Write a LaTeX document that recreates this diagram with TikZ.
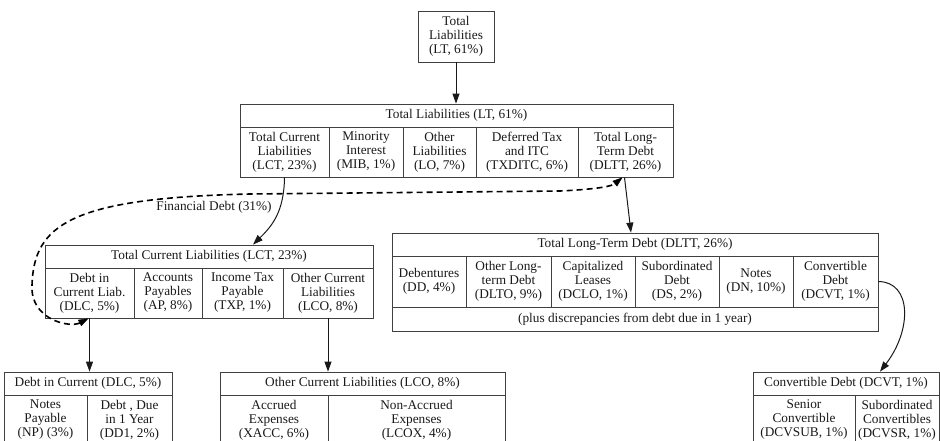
\documentclass[tikz,border=0pt]{standalone}
\usepackage{fontspec}
\setmainfont{Liberation Serif}
\usetikzlibrary{arrows.meta}
\begin{document}
\begin{tikzpicture}[x=1pt,y=-1pt,
  txt/.style={font=\fontsize{13.3}{14}\selectfont, text=black!90},
  cell/.style={txt, draw=black!75, line width=0.8pt, inner sep=0pt, align=center, anchor=center},
  arr/.style={draw=black!90, line width=1pt, -{Triangle[length=10pt,width=7pt]}},
  dasharr/.style={draw=black, line width=1.6pt, dash pattern=on 6pt off 4pt,
     {Triangle[length=10pt,width=7pt,line width=0.5pt]}-{Triangle[length=10pt,width=7pt,line width=0.5pt]}}]
\useasboundingbox (0,0) rectangle (940,440);
\clip (0,0) rectangle (940,440);

% top box
\node[cell, minimum width=76pt, minimum height=51pt] (top) at (456,36.5) {Total\\Liabilities\\(LT, 61\%)};

% LT record
\node[cell, minimum width=433pt, minimum height=23pt] (lthead) at (456.5,115.5) {Total Liabilities (LT, 61\%)};
\node[cell, minimum width=89pt, minimum height=50pt] (ltc1) at (284.5,152) {Total Current\\Liabilities\\(LCT, 23\%)};
\node[cell, minimum width=74pt, minimum height=50pt] (ltc2) at (366,152) {Minority\\Interest\\(MIB, 1\%)};
\node[cell, minimum width=73pt, minimum height=50pt] (ltc3) at (439.5,152) {Other\\Liabilities\\(LO, 7\%)};
\node[cell, minimum width=102pt, minimum height=50pt] (ltc4) at (527,152) {Deferred Tax\\and ITC\\(TXDITC, 6\%)};
\node[cell, minimum width=95pt, minimum height=50pt] (ltc5) at (625.5,152) {Total Long-\\Term Debt\\(DLTT, 26\%)};

% LCT record
\node[cell, minimum width=328pt, minimum height=23pt] (lcthead) at (209,256.5) {Total Current Liabilities (LCT, 23\%)};
\node[cell, minimum width=89pt, minimum height=50pt] (lctc1) at (89.5,293) {Debt in\\Current Liab.\\(DLC, 5\%)};
\node[cell, minimum width=68pt, minimum height=50pt] (lctc2) at (168,293) {Accounts\\Payables\\(AP, 8\%)};
\node[cell, minimum width=81pt, minimum height=50pt] (lctc3) at (242.5,293) {Income Tax\\Payable\\(TXP, 1\%)};
\node[cell, minimum width=90pt, minimum height=50pt] (lctc4) at (328,293) {Other Current\\Liabilities\\(LCO, 8\%)};

% DLTT record
\node[cell, minimum width=486pt, minimum height=23pt] (dltthead) at (635,244.5) {Total Long-Term Debt (DLTT, 26\%)};
\node[cell, minimum width=74pt, minimum height=51pt] (dlttc1) at (429,281.5) {Debentures\\(DD, 4\%)};
\node[cell, minimum width=85pt, minimum height=51pt] (dlttc2) at (508.5,281.5) {Other Long-\\term Debt\\(DLTO, 9\%)};
\node[cell, minimum width=84pt, minimum height=51pt] (dlttc3) at (593,281.5) {Capitalized\\Leases\\(DCLO, 1\%)};
\node[cell, minimum width=84pt, minimum height=51pt] (dlttc4) at (677,281.5) {Subordinated\\Debt\\(DS, 2\%)};
\node[cell, minimum width=74pt, minimum height=51pt] (dlttc5) at (756,281.5) {Notes\\(DN, 10\%)};
\node[cell, minimum width=85pt, minimum height=51pt] (dlttc6) at (835.5,281.5) {Convertible\\Debt\\(DCVT, 1\%)};
\node[cell, minimum width=486pt, minimum height=24pt] (dlttfoot) at (635,319) {(plus discrepancies from debt due in 1 year)};

% DLC box
\node[cell, minimum width=168pt, minimum height=23pt] (dlchead) at (88,383.5) {Debt in Current (DLC, 5\%)};
\node[cell, minimum width=83pt, minimum height=50pt] (dlcc1) at (45.5,420) {Notes\\Payable\\(NP) (3\%)};
\node[cell, minimum width=85pt, minimum height=50pt] (dlcc2) at (129.5,420) {Debt , Due\\in 1 Year\\(DD1, 2\%)};

% LCO box
\node[cell, minimum width=285pt, minimum height=23pt] (lcohead) at (362.5,383.5) {Other Current Liabilities (LCO, 8\%)};
\node[cell, minimum width=108pt, minimum height=50pt] (lcoc1) at (274,420) {Accrued\\Expenses\\(XACC, 6\%)};
\node[cell, minimum width=177pt, minimum height=50pt] (lcoc2) at (416.5,420) {Non-Accrued\\Expenses\\(LCOX, 4\%)};

% DCVT box
\node[cell, minimum width=186pt, minimum height=23pt] (dcvthead) at (846,383.5) {Convertible Debt (DCVT, 1\%)};
\node[cell, minimum width=102pt, minimum height=50pt] (dcvtc1) at (804,420) {Senior\\Convertible\\(DCVSUB, 1\%)};
\node[cell, minimum width=84pt, minimum height=50pt] (dcvtc2) at (897,420) {Subordinated\\Convertibles\\(DCVSR, 1\%)};

% label
\node[txt, inner sep=1pt] (fdlabel) at (214,207) {Financial Debt (31\%)};

% connectors
\draw[arr] (top.south) -- (top.south |- lthead.north);
\draw[arr] (ltc1.south) .. controls (284,212) and (272,226) .. ([xshift=44pt]lcthead.north);
\draw[arr] ([xshift=-1pt]ltc5.south) -- ([xshift=-4pt]dltthead.north);
\draw[arr] (lctc1.south) -- (lctc1.south |- dlchead.north);
\draw[arr] (lctc4.south) -- (lctc4.south |- lcohead.north);
\draw[arr] (dlttc6.east) .. controls (912,282) and (912,330) .. ([xshift=34pt]dcvthead.north);
\draw[dasharr] ([xshift=-1pt]lctc1.south) .. controls (70,328) and (30,320) .. (32,285)
   .. controls (34,225) and (70,198) .. (250,194) -- (560,191)
   .. controls (600,189) and (612,186) .. ([xshift=-3pt]ltc5.south);
\end{tikzpicture}
\end{document}
